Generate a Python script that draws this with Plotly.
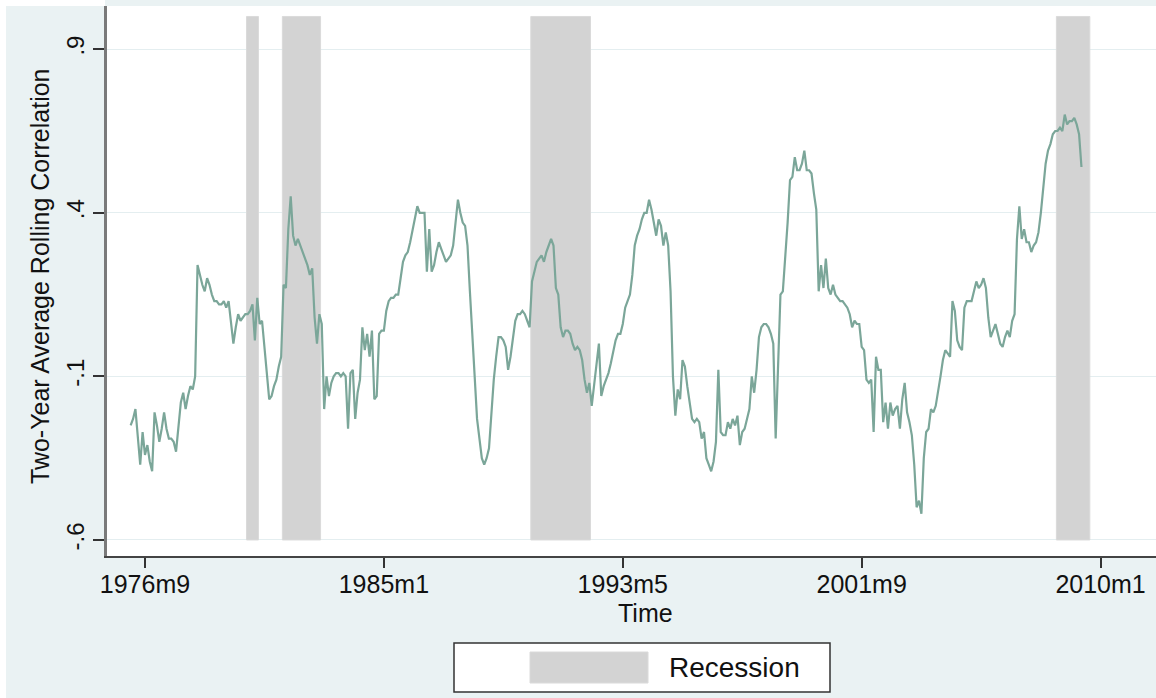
import plotly.graph_objects as go

# ---- data -------------------------------------------------------------
# Two-year average rolling correlation, monthly, first observation 1976m3
first_month = "1976m3"
rolling_corr = [
    -0.25, -0.23, -0.20, -0.30, -0.37, -0.27, -0.34, -0.31, -0.36, -0.39,
    -0.21, -0.25, -0.30, -0.26, -0.21, -0.26, -0.29, -0.29, -0.30, -0.33,
    -0.25, -0.18, -0.15, -0.20, -0.16, -0.13, -0.14, -0.10,
    0.24, 0.21, 0.18, 0.16, 0.20, 0.18, 0.15, 0.13, 0.13, 0.12,
    0.12, 0.13, 0.11, 0.13, 0.06, 0.00, 0.05, 0.09, 0.07, 0.08,
    0.09, 0.09, 0.10, 0.12, 0.01, 0.14, 0.06, 0.07, 0.00, -0.09,
    -0.17, -0.16, -0.13, -0.11, -0.07, -0.04, 0.18, 0.17, 0.35, 0.45,
    0.33, 0.30, 0.32, 0.30, 0.28, 0.26, 0.24, 0.21, 0.23, 0.08,
    0.00, 0.09, 0.06, -0.20, -0.10, -0.16, -0.12, -0.10, -0.09, -0.09,
    -0.10, -0.09, -0.10, -0.26, -0.09, -0.08, -0.23, -0.15, -0.11, 0.05,
    -0.02, 0.03, -0.04, 0.04, -0.17, -0.16, 0.03, 0.04, 0.04, 0.10,
    0.13, 0.14, 0.14, 0.15, 0.15, 0.20, 0.25, 0.27, 0.28, 0.31,
    0.35, 0.38, 0.42, 0.40, 0.40, 0.40, 0.22, 0.35, 0.22, 0.24,
    0.28, 0.31, 0.29, 0.27, 0.25, 0.26, 0.27, 0.30, 0.37, 0.44,
    0.40, 0.37, 0.36, 0.30, 0.16, 0.02, -0.13, -0.23, -0.29, -0.35,
    -0.37, -0.35, -0.32, -0.20, -0.11, -0.04, 0.02, 0.02, 0.01, -0.01,
    -0.08, -0.04, 0.01, 0.07, 0.09, 0.09, 0.10, 0.09, 0.07, 0.05,
    0.19, 0.22, 0.25, 0.26, 0.27, 0.25, 0.28, 0.30, 0.32, 0.30,
    0.17, 0.15, 0.05, 0.02, 0.04, 0.04, 0.03, 0.00, -0.02, -0.01,
    -0.02, -0.05, -0.11, -0.15, -0.12, -0.19, -0.12, -0.05, 0.00, -0.16,
    -0.13, -0.11, -0.09, -0.06, -0.02, 0.01, 0.03, 0.03, 0.06, 0.11,
    0.13, 0.15, 0.21, 0.30, 0.33, 0.35, 0.38, 0.40, 0.40, 0.44,
    0.41, 0.37, 0.33, 0.38, 0.36, 0.30, 0.34, 0.30, 0.16, -0.10,
    -0.22, -0.14, -0.17, -0.05, -0.07, -0.13, -0.18, -0.23, -0.24, -0.23,
    -0.24, -0.29, -0.27, -0.35, -0.37, -0.39, -0.36, -0.30, -0.08, -0.27,
    -0.28, -0.28, -0.24, -0.26, -0.23, -0.25, -0.22, -0.31, -0.27, -0.26,
    -0.23, -0.20, -0.10, -0.15, -0.08, 0.02, 0.05, 0.06, 0.06, 0.05,
    0.03, 0.00, -0.29, -0.03, 0.15, 0.16, 0.26, 0.37, 0.50, 0.51,
    0.57, 0.53, 0.53, 0.55, 0.59, 0.53, 0.53, 0.52, 0.46, 0.41,
    0.16, 0.24, 0.17, 0.26, 0.17, 0.15, 0.18, 0.15, 0.14, 0.13,
    0.13, 0.12, 0.11, 0.09, 0.05, 0.07, 0.06, 0.06, -0.01, -0.02,
    -0.11, -0.12, -0.11, -0.27, -0.04, -0.08, -0.08, -0.24, -0.18, -0.26,
    -0.18, -0.22, -0.20, -0.19, -0.26, -0.17, -0.12, -0.21, -0.24, -0.28,
    -0.37, -0.50, -0.48, -0.52, -0.35, -0.27, -0.26, -0.20, -0.21, -0.19,
    -0.15, -0.10, -0.05, -0.02, -0.03, -0.04, 0.13, 0.10, 0.01, -0.01,
    -0.02, 0.11, 0.13, 0.13, 0.13, 0.16, 0.19, 0.17, 0.18, 0.20,
    0.17, 0.08, 0.02, 0.04, 0.06, 0.03, 0.00, -0.01, 0.02, 0.04,
    0.02, 0.07, 0.09, 0.32, 0.42, 0.32, 0.35, 0.31, 0.31, 0.28,
    0.30, 0.31, 0.34, 0.40, 0.47, 0.55, 0.59, 0.61, 0.64, 0.65,
    0.65, 0.66, 0.65, 0.70, 0.67, 0.68, 0.68, 0.69, 0.67, 0.64,
    0.54,
]

# Recession periods (first and last month shaded)
recessions = [
    ("1980m4", "1980m8"),
    ("1981m7", "1982m10"),
    ("1990m3", "1992m3"),
    ("2008m7", "2009m8"),
]
shade_base = -0.6
shade_top = 1.0

# Axis ticks
x_tick_labels = ["1976m9", "1985m1", "1993m5", "2001m9", "2010m1"]
y_tick_values = [-0.6, -0.1, 0.4, 0.9]
y_tick_labels = ["-.6", "-.1", ".4", ".9"]


def stata_month(label):
    """Months since 1960m1, as in Stata's %tm format."""
    year, month = label.split("m")
    return (int(year) - 1960) * 12 + int(month) - 1


t0 = stata_month(first_month)
months = [t0 + i for i in range(len(rolling_corr))]
x_tick_values = [stata_month(s) for s in x_tick_labels]

rec_start = [stata_month(a) for a, _ in recessions]
rec_end = [stata_month(b) for _, b in recessions]
rec_mid = [(a + b) / 2 for a, b in zip(rec_start, rec_end)]
rec_width = [b - a + 1 for a, b in zip(rec_start, rec_end)]

# ---- layout geometry (pixels) -----------------------------------------
W, H = 1156, 698
L, R, T, B = 107, 0, 6, 142
pw, ph = W - L - R, H - T - B


def px(x):
    return (x - L) / pw


def py(y):
    return (H - B - y) / ph


FONT = "Liberation Sans, Arial, Helvetica, sans-serif"
BG = "#EAF2F3"
GRID = "#E4EEF0"

fig = go.Figure()

fig.add_trace(go.Bar(
    x=rec_mid,
    y=[shade_top - shade_base] * len(rec_mid),
    base=shade_base,
    width=rec_width,
    marker=dict(color="#D3D3D3", line=dict(color="#DADADA", width=1)),
    name="Recession",
    showlegend=False,
    hoverinfo="skip",
))

fig.add_trace(go.Scatter(
    x=months,
    y=rolling_corr,
    mode="lines",
    line=dict(color="#7BA699", width=2.2),
    name="Two-Year Average Rolling Correlation",
    showlegend=False,
))

fig.update_layout(
    width=W,
    height=H,
    margin=dict(l=L, r=R, t=T, b=B, autoexpand=False),
    paper_bgcolor=BG,
    plot_bgcolor="white",
    font=dict(family=FONT, color="#1a1a1a"),
    showlegend=False,
    xaxis=dict(
        range=[184.1, 623.2],
        tickmode="array",
        tickvals=x_tick_values,
        ticktext=x_tick_labels,
        ticks="outside",
        ticklen=10,
        tickwidth=1.5,
        tickcolor="#333",
        tickfont=dict(size=25, family=FONT, color="#111"),
        ticklabelstandoff=-5,
        showgrid=False,
        zeroline=False,
        showline=True,
        linecolor="#444",
        linewidth=1.5,
        automargin=False,
    ),
    yaxis=dict(
        range=[-0.649, 1.032],
        tickmode="array",
        tickvals=y_tick_values,
        ticktext=y_tick_labels,
        tickangle=-90,
        ticks="outside",
        ticklen=11,
        tickwidth=1.5,
        tickcolor="#333",
        tickfont=dict(size=24, family=FONT, color="#111"),
        showgrid=True,
        gridcolor=GRID,
        gridwidth=1,
        zeroline=False,
        showline=True,
        linecolor="#7a7a7a",
        linewidth=2.5,
        automargin=False,
    ),
)

# white frame strip along the left and top edges
fig.add_shape(type="rect", xref="paper", yref="paper",
              x0=px(-5), x1=px(6), y0=py(H + 5), y1=py(-5),
              fillcolor="white", line_width=0, layer="above")
fig.add_shape(type="rect", xref="paper", yref="paper",
              x0=px(-5), x1=px(L - 2), y0=py(6), y1=py(-5),
              fillcolor="white", line_width=0, layer="above")

# axis titles
fig.add_annotation(text="Two-Year Average Rolling Correlation",
                   xref="paper", yref="paper", x=px(40), y=py(276),
                   textangle=-90, showarrow=False,
                   font=dict(size=25, family=FONT, color="#111"),
                   xanchor="center", yanchor="middle")
fig.add_annotation(text="Time", xref="paper", yref="paper",
                   x=px(645), y=py(613), showarrow=False,
                   font=dict(size=25, family=FONT, color="#111"),
                   xanchor="center", yanchor="middle")

# legend box
fig.add_shape(type="rect", xref="paper", yref="paper",
              x0=px(454), x1=px(830), y0=py(692), y1=py(643),
              fillcolor="white", line=dict(color="#333", width=1.5))
fig.add_shape(type="rect", xref="paper", yref="paper",
              x0=px(530), x1=px(648), y0=py(683), y1=py(652),
              fillcolor="#D3D3D3", line=dict(color="#DADADA", width=1))
fig.add_annotation(text="Recession", xref="paper", yref="paper",
                   x=px(667), y=py(667), showarrow=False,
                   font=dict(size=28, family=FONT, color="#111"),
                   xanchor="left", yanchor="middle")

fig.write_html("out.html")
